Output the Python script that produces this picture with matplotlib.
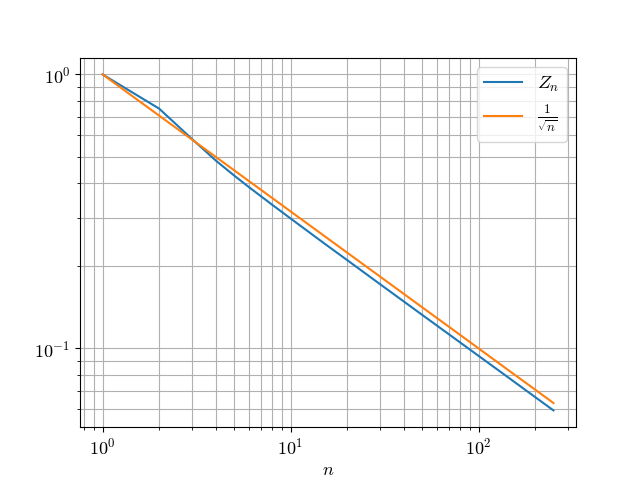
import matplotlib
matplotlib.use("Agg")
import matplotlib.pyplot as plt

plt.rcParams["mathtext.fontset"] = "cm"
plt.rcParams["font.family"] = "serif"
plt.rcParams["font.serif"] = ["cmr10"]
plt.rcParams["axes.formatter.use_mathtext"] = True

# ── Data ──────────────────────────────────────────────────────────────────
n = [1, 2, 3, 4, 5, 6, 8, 10, 15, 20, 30, 50, 75, 100, 150, 200, 250]
z_n = [1.0, 0.75, 0.58, 0.485, 0.428, 0.388, 0.334, 0.298, 0.2425, 0.21,
       0.1713, 0.1327, 0.1084, 0.0939, 0.0767, 0.0664, 0.0594]
inv_sqrt_n = [1.0, 0.7071, 0.5774, 0.5, 0.4472, 0.4082, 0.3536, 0.3162,
              0.2582, 0.2236, 0.1826, 0.1414, 0.1155, 0.1, 0.0816, 0.0707,
              0.0632]

# ── Plot ───────────────────────────────────────────────────────────────────
fig, ax = plt.subplots(figsize=(6.4, 4.8), dpi=100)

ax.loglog(n, z_n, label=r"$Z_n$")
ax.loglog(n, inv_sqrt_n, label=r"$\frac{1}{\sqrt{n}}$")

ax.set_xlabel(r"$n$", fontsize=13)
ax.tick_params(labelsize=13)
ax.grid(which="both")
ax.legend(fontsize=13.5)

plt.savefig("out.png", dpi=100)
